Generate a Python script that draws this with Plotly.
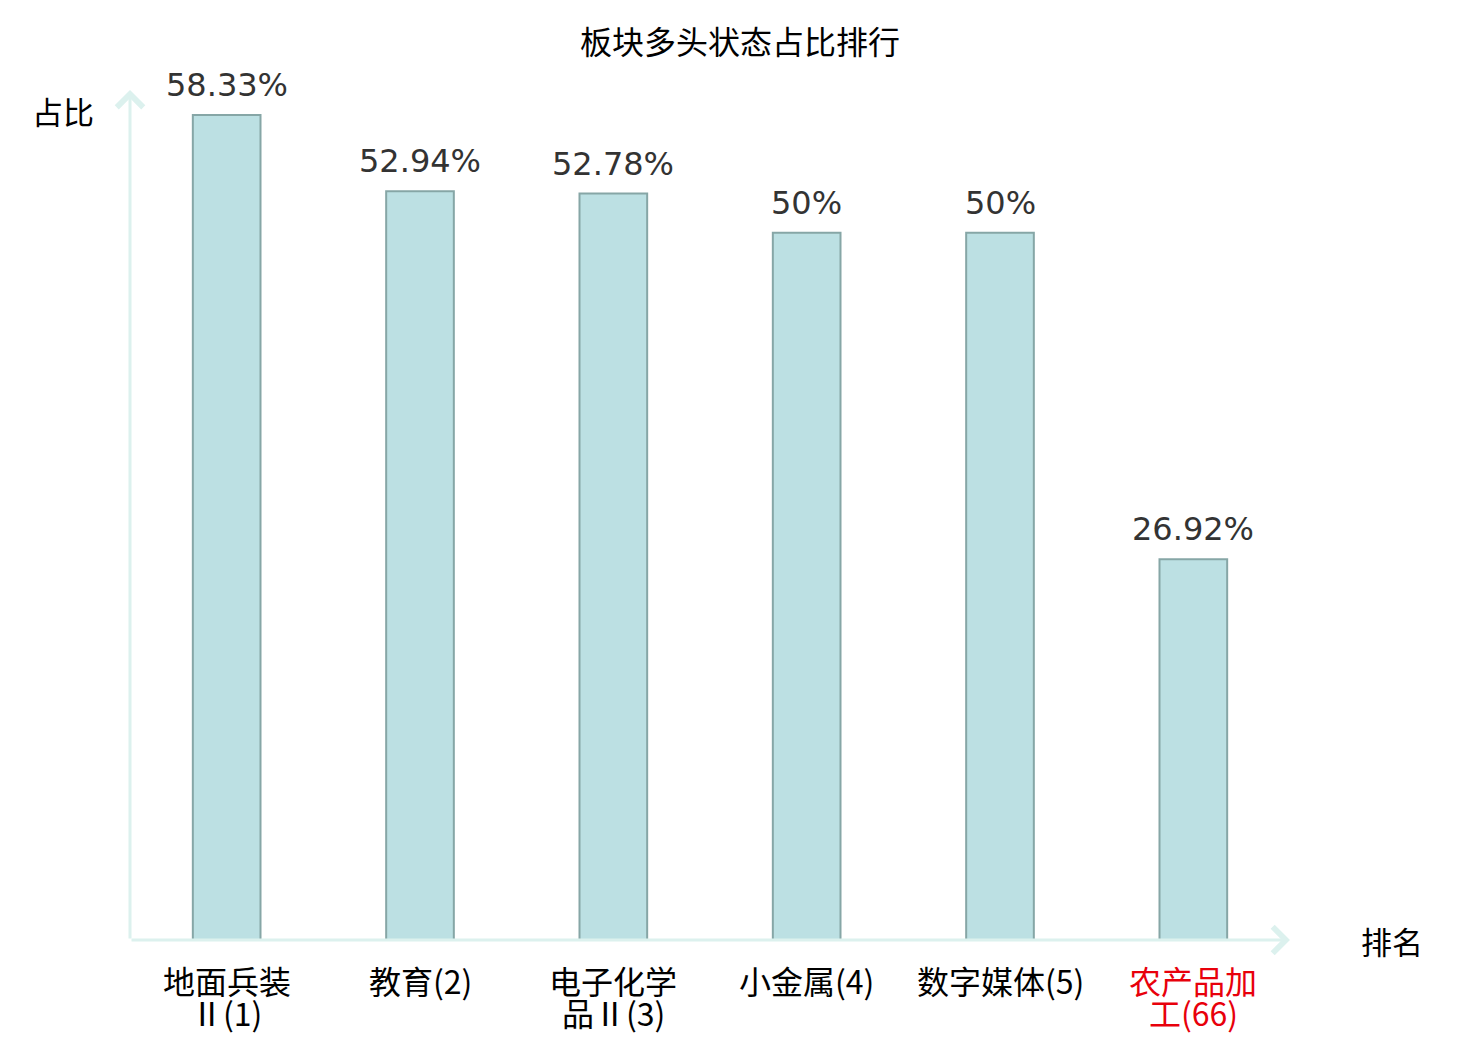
import plotly.graph_objects as go

# data
sectors = ["地面兵装Ⅱ", "教育", "电子化学品Ⅱ", "小金属", "数字媒体", "农产品加工"]
ranks = [1, 2, 3, 4, 5, 66]
label_line1 = ["地面兵装", "教育(2)", "电子化学", "小金属(4)", "数字媒体(5)", "农产品加"]
label_line2 = ["Ⅱ(1)", "", "品Ⅱ(3)", "", "", "工(66)"]
ratios = [58.33, 52.94, 52.78, 50, 50, 26.92]

x_idx = list(range(len(sectors)))
label_colors = ["#000000"] * (len(sectors) - 1) + ["#e8000b"]

axis_color = "#dcf1ee"
cjk = "Noto Sans CJK SC"

fig = go.Figure()

fig.add_trace(
    go.Bar(
        x=x_idx,
        y=ratios,
        width=0.35,
        marker=dict(color="#bce0e3", line=dict(color="#86a6a6", width=2)),
        hoverinfo="skip",
    )
)

# value labels above bars
for xi, v in zip(x_idx, ratios):
    fig.add_annotation(
        x=xi, y=v, xref="x", yref="y",
        text=f"{v:g}%", showarrow=False,
        yanchor="bottom", yshift=9,
        font=dict(family="DejaVu Sans", size=32, color="#333333"),
    )

# category labels (two lines, tight spacing)
for xi, l1, l2, c in zip(x_idx, label_line1, label_line2, label_colors):
    fig.add_annotation(
        x=xi, y=0, xref="x", yref="paper", text=l1, showarrow=False,
        yanchor="middle", yshift=-40,
        font=dict(family=cjk, size=32, color=c),
    )
    if l2:
        fig.add_annotation(
            x=xi, y=0, xref="x", yref="paper", text=l2, showarrow=False,
            yanchor="middle", yshift=-72,
            font=dict(family=cjk, size=32, color=c),
        )

# axes drawn as arrows
fig.add_annotation(
    x=len(sectors) - 0.5, y=0, ax=-0.5, ay=0,
    xref="x", yref="y", axref="x", ayref="y",
    text="", showarrow=True, arrowhead=4, arrowsize=1.7, arrowwidth=3,
    arrowcolor=axis_color,
)
fig.add_annotation(
    x=-0.5, y=60.1, ax=-0.5, ay=0,
    xref="x", yref="y", axref="x", ayref="y",
    text="", showarrow=True, arrowhead=4, arrowsize=1.7, arrowwidth=3,
    arrowcolor=axis_color,
)

# axis titles
fig.add_annotation(
    x=-0.058, y=0.976, xref="paper", yref="paper", text="占比",
    showarrow=False, xanchor="center", yanchor="middle",
    font=dict(family=cjk, size=31, color="#000000"),
)
fig.add_annotation(
    x=1.088, y=0, xref="paper", yref="paper", text="排名",
    showarrow=False, xanchor="center", yanchor="middle",
    font=dict(family=cjk, size=31, color="#000000"),
)

fig.update_layout(
    width=1480,
    height=1040,
    margin=dict(l=122, r=198, t=82, b=108),
    plot_bgcolor="white",
    paper_bgcolor="white",
    showlegend=False,
    title=dict(
        text="板块多头状态占比排行",
        x=(740 - 8) / 1480, xanchor="center",
        y=1 - 35 / 1040, yref="container", yanchor="middle",
        font=dict(family=cjk, size=32, color="#000000"),
    ),
)

fig.update_xaxes(
    range=[-0.5, len(sectors) - 0.5],
    showgrid=False, zeroline=False, showline=False, ticks="",
    showticklabels=False, automargin=False,
)
fig.update_yaxes(
    range=[0, 60.1],
    visible=False, automargin=False,
)

fig.write_html("out.html")
